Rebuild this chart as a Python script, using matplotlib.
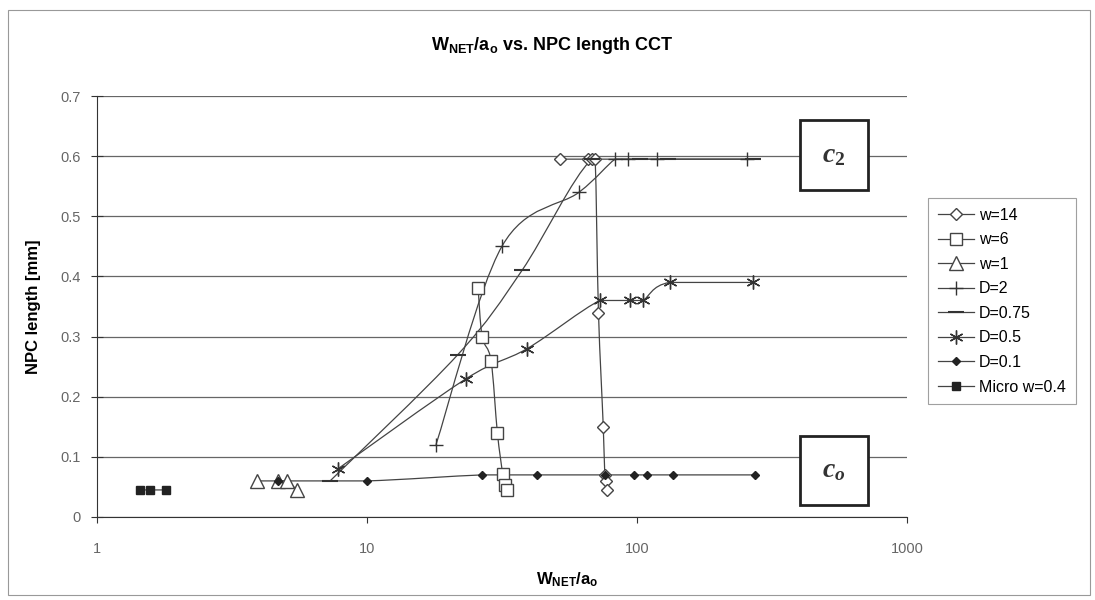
import numpy as np
import matplotlib
matplotlib.use("Agg")
import matplotlib.pyplot as plt
from matplotlib.path import Path
from matplotlib.patches import PathPatch, Rectangle
from matplotlib.lines import Line2D

plt.rcParams['font.family'] = ['Liberation Sans', 'DejaVu Sans']
plt.rcParams['mathtext.fontset'] = 'custom'
plt.rcParams['mathtext.sf'] = 'Liberation Sans:bold'
plt.rcParams['mathtext.it'] = 'Liberation Serif:italic:bold'
plt.rcParams['mathtext.rm'] = 'Liberation Serif:bold'

# data
w14_x = [52, 66, 68, 70, 72, 75, 76, 77, 77.5]
w14_y = [0.595, 0.595, 0.595, 0.595, 0.34, 0.15, 0.07, 0.06, 0.045]
w6_x = [25.8, 26.7, 28.8, 30.4, 31.8, 32.4, 33.0]
w6_y = [0.38, 0.30, 0.26, 0.14, 0.072, 0.053, 0.045]
w1_x = [3.9, 4.7, 5.05, 5.5]
w1_y = [0.06, 0.06, 0.06, 0.045]
d2_x = [18, 31.6, 61, 83, 93, 119, 255]
d2_y = [0.12, 0.45, 0.54, 0.595, 0.595, 0.595, 0.595]
d075_x = [7.3, 21.7, 37.5, 68, 103, 130, 269]
d075_y = [0.06, 0.27, 0.41, 0.595, 0.595, 0.595, 0.595]
d05_x = [7.8, 23.3, 39.2, 72.9, 94.2, 105, 132, 269]
d05_y = [0.08, 0.23, 0.28, 0.36, 0.36, 0.36, 0.39, 0.39]
d01_x = [4.7, 10, 26.7, 42.6, 76, 97.5, 109, 136, 273]
d01_y = [0.06, 0.06, 0.07, 0.07, 0.07, 0.07, 0.07, 0.07, 0.07]
micro_x = [1.44, 1.57, 1.80]
micro_y = [0.045, 0.045, 0.045]

series = [
    ('w=14', w14_x, w14_y, dict(marker='D', markersize=6, mfc='white', mec='#444')),
    ('w=6', w6_x, w6_y, dict(marker='s', markersize=9, mfc='white', mec='#444')),
    ('w=1', w1_x, w1_y, dict(marker='^', markersize=10, mfc='white', mec='#444')),
    ('D=2', d2_x, d2_y, dict(marker='+', markersize=10, mec='#333')),
    ('D=0.75', d075_x, d075_y, dict(marker='_', markersize=11, mec='#333', mew=1.5)),
    ('D=0.5', d05_x, d05_y, dict(marker=(6, 2, 0), markersize=10, mec='#333')),
    ('D=0.1', d01_x, d01_y, dict(marker='D', markersize=4.5, mfc='#222', mec='#222')),
    ('Micro w=0.4', micro_x, micro_y, dict(marker='s', markersize=5.5, mfc='#222', mec='#222')),
]


def smooth_path(x, y):
    # smoothed line like Excel: Catmull-Rom pieces as cubic Beziers in log-x space,
    # control heights kept inside each segment so flat runs do not overshoot
    p = np.column_stack([np.log10(x), y])
    p = np.vstack([p[0], p, p[-1]])
    verts = [p[1]]
    codes = [Path.MOVETO]
    for i in range(1, len(p) - 2):
        c1 = p[i] + (p[i + 1] - p[i - 1]) / 6
        c2 = p[i + 1] - (p[i + 2] - p[i]) / 6
        lo, hi = sorted([p[i][1], p[i + 1][1]])
        c1[1] = np.clip(c1[1], lo, hi)
        c2[1] = np.clip(c2[1], lo, hi)
        verts += [c1, c2, p[i + 1]]
        codes += [Path.CURVE4] * 3
    verts = np.array(verts)
    verts[:, 0] = 10 ** verts[:, 0]
    return Path(verts, codes)


fig = plt.figure(figsize=(10.95, 6), dpi=100)
ax = fig.add_axes([97 / 1095, 1 - 517 / 600, 810 / 1095, 421 / 600])

ax.set_xscale('log')
ax.set_xlim(1, 1000)
ax.set_ylim(0, 0.7)
ax.set_yticks(np.arange(0, 0.71, 0.1))
ax.set_yticklabels(['0', '0.1', '0.2', '0.3', '0.4', '0.5', '0.6', '0.7'])
ax.set_xticks([1, 10, 100, 1000])
ax.set_xticklabels(['1', '10', '100', '1000'])
ax.minorticks_off()
ax.grid(axis='y', color='#666', lw=0.9)
ax.set_axisbelow(True)
for s in ['top', 'right']:
    ax.spines[s].set_visible(False)
for s in ['left', 'bottom']:
    ax.spines[s].set_color('#333')
ax.tick_params(axis='y', direction='inout', length=8, colors='#333', labelcolor='#666', labelsize=10.5, pad=8)
ax.tick_params(axis='x', direction='out', length=4, colors='#333', labelcolor='#666', labelsize=10.5, pad=14)

handles = []
for name, xs, ys, st in series:
    ax.add_patch(PathPatch(smooth_path(xs, ys), fill=False, ec='#444', lw=0.9, zorder=3))
    ax.plot(xs, ys, linestyle='none', zorder=4, **st)
    handles.append(Line2D([], [], color='#444', lw=0.9, label=name, **st))

ax.set_xlabel(r'$\mathsf{W_{NET}/a_o}$', fontsize=12, labelpad=10, x=0.58)
ax.set_ylabel('NPC length [mm]', fontsize=12, fontweight='bold', labelpad=14)
fig.text(552 / 1095, 1 - 45 / 600, r'$\mathsf{W_{NET}/a_o}$ vs. NPC length CCT', fontsize=13,
         fontweight='bold', ha='center', va='center')

# boxes for c2 and co
for (y0, y1), lab in [((0.777, 0.943), r'$c_{2}$'), ((0.0285, 0.192), r'$c_{o}$')]:
    ax.add_patch(Rectangle((0.868, y0), 0.084, y1 - y0, transform=ax.transAxes,
                           fc='white', ec='#222', lw=2, zorder=5, clip_on=False))
    ax.text(0.91, (y0 + y1) / 2, lab, transform=ax.transAxes, fontsize=20,
            ha='center', va='center', zorder=6, color='#333')

leg = fig.legend(handles=handles, loc='upper left', bbox_to_anchor=(920 / 1095, 1 - 190 / 600),
                 fontsize=11.5, frameon=True, fancybox=False, edgecolor='#888',
                 handlelength=2.3, handletextpad=0.3, labelspacing=0.6, borderpad=0.6)
leg.get_frame().set_linewidth(0.8)

fig.add_artist(Rectangle((8 / 1095, 5 / 600), 1082 / 1095, 585 / 600, transform=fig.transFigure,
                         fill=False, ec='#999', lw=0.8))

fig.savefig('out.png', dpi=100)
